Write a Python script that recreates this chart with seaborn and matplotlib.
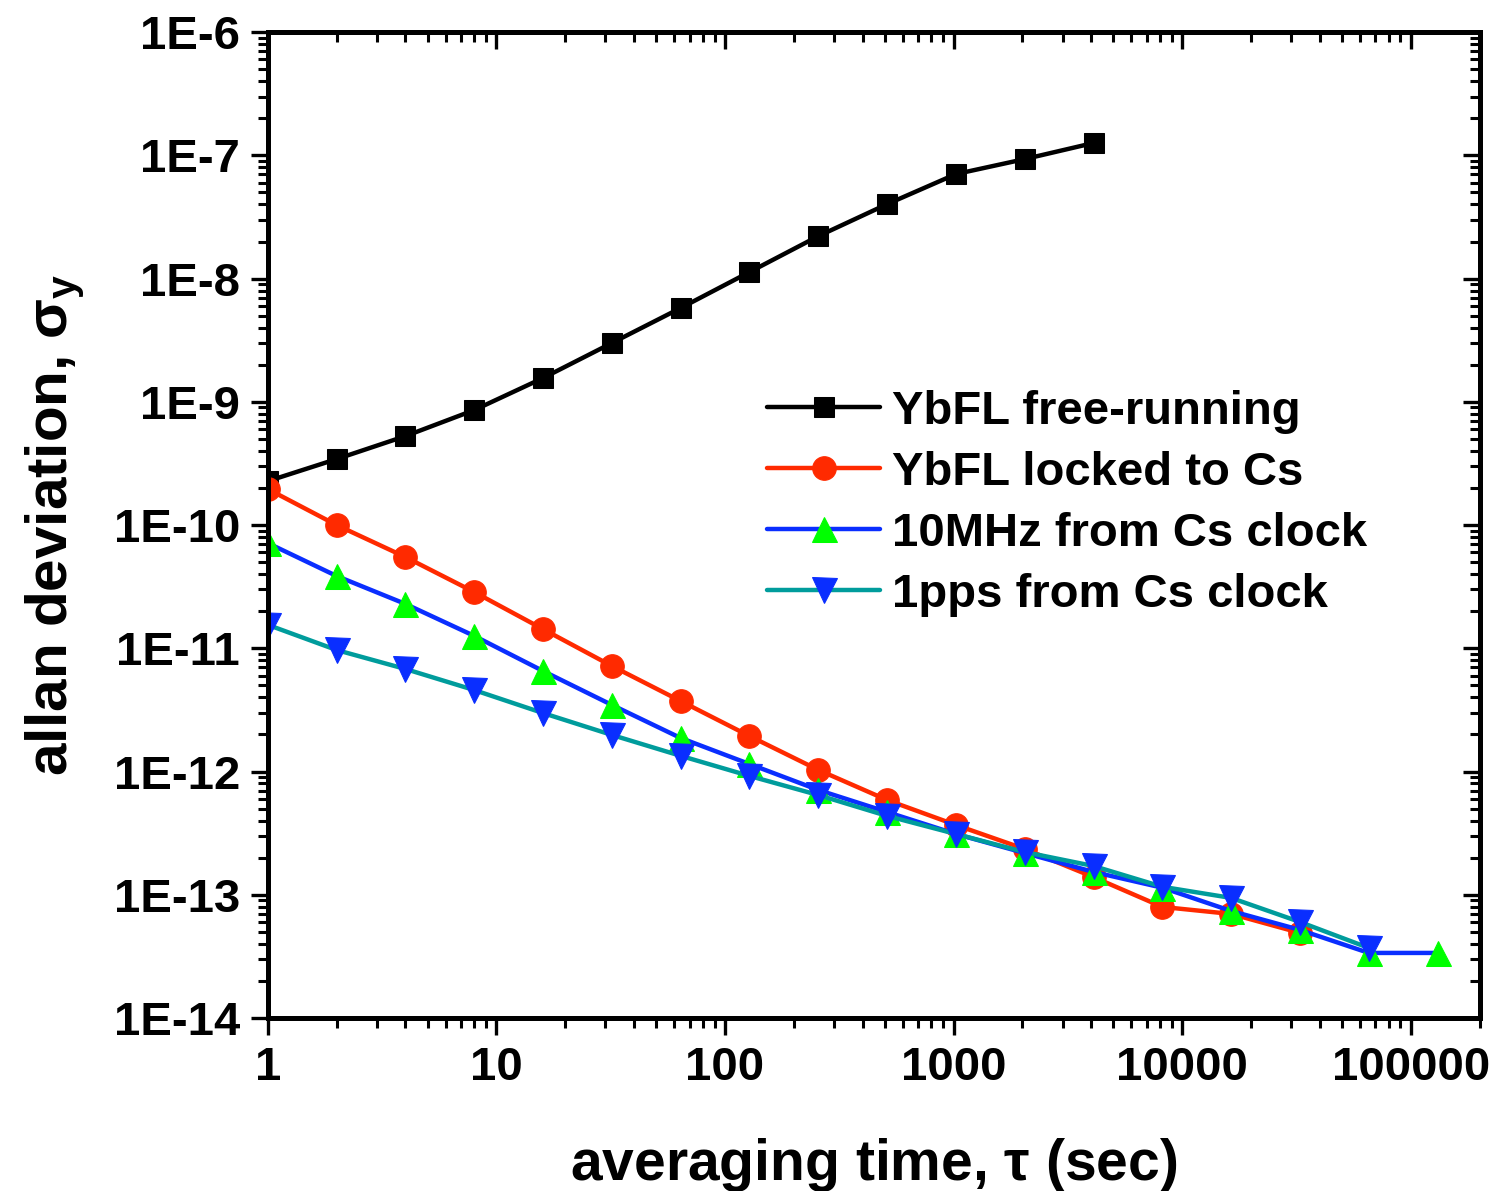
import numpy as np
import pandas as pd
import matplotlib
matplotlib.use('Agg')
import matplotlib.pyplot as plt
import seaborn as sns
from matplotlib.ticker import FixedLocator, FixedFormatter, LogLocator, NullFormatter

# averaging times (2^n seconds)
tau_free = [2 ** n for n in range(13)]
tau_locked = [2 ** n for n in range(16)]
tau_10mhz = [2 ** n for n in range(18)]
tau_1pps = [2 ** n for n in range(17)]

# allan deviation values
adev_free = [2.27e-10, 3.43e-10, 5.27e-10, 8.57e-10, 1.56e-9, 3.0e-9, 5.77e-9,
             1.13e-8, 2.21e-8, 4.02e-8, 7.05e-8, 9.33e-8, 1.26e-7]
adev_locked = [1.96e-10, 1.0e-10, 5.5e-11, 2.86e-11, 1.43e-11, 7.18e-12, 3.73e-12,
               1.94e-12, 1.03e-12, 5.87e-13, 3.68e-13, 2.35e-13, 1.39e-13, 7.96e-14,
               6.98e-14, 4.9e-14]
adev_10mhz = [7.14e-11, 3.86e-11, 2.29e-11, 1.26e-11, 6.54e-12, 3.47e-12, 1.87e-12,
              1.15e-12, 7.08e-13, 4.69e-13, 3.11e-13, 2.18e-13, 1.53e-13, 1.14e-13,
              7.38e-14, 5.18e-14, 3.37e-14, 3.37e-14]
adev_1pps = [1.55e-11, 9.68e-12, 6.79e-12, 4.58e-12, 2.98e-12, 1.98e-12, 1.34e-12,
             9.2e-13, 6.44e-13, 4.36e-13, 3.11e-13, 2.22e-13, 1.71e-13, 1.16e-13,
             9.42e-14, 6.01e-14, 3.7e-14]

labels = ['YbFL free-running', 'YbFL locked to Cs', '10MHz from Cs clock', '1pps from Cs clock']

x_ticks = [1, 10, 100, 1000, 10000, 100000]
x_tick_labels = ['1', '10', '100', '1000', '10000', '100000']
y_ticks = [1e-14, 1e-13, 1e-12, 1e-11, 1e-10, 1e-9, 1e-8, 1e-7, 1e-6]
y_tick_labels = ['1E-14', '1E-13', '1E-12', '1E-11', '1E-10', '1E-9', '1E-8', '1E-7', '1E-6']

sns.set_style('ticks')
plt.rcParams['font.family'] = ['Liberation Sans', 'DejaVu Sans']
plt.rcParams['font.weight'] = 'bold'
plt.rcParams['mathtext.fontset'] = 'custom'
plt.rcParams['mathtext.rm'] = 'Liberation Sans:bold'
plt.rcParams['mathtext.it'] = 'Liberation Sans:bold'
for key in ['text.color', 'axes.labelcolor', 'axes.edgecolor', 'xtick.color', 'ytick.color']:
    plt.rcParams[key] = 'black'

fig = plt.figure(figsize=(14.96, 11.91), dpi=100)
ax = fig.add_axes([0.179, 0.1453, 0.81, 0.8277])

lw = 3.2
sns.lineplot(x=tau_free, y=adev_free, ax=ax, color='black', marker='s', markersize=14,
             markeredgecolor='black', linewidth=lw, label=labels[0])
sns.lineplot(x=tau_locked, y=adev_locked, ax=ax, color='#FF2A00', marker='o', markersize=17,
             markeredgecolor='#FF2A00', linewidth=lw, label=labels[1])
sns.lineplot(x=tau_10mhz, y=adev_10mhz, ax=ax, color='#0A2EFF', marker='^', markersize=18,
             markerfacecolor='#00FF00', markeredgecolor='#00FF00', linewidth=lw, label=labels[2])
sns.lineplot(x=tau_1pps, y=adev_1pps, ax=ax, color='#009C9C', marker='v', markersize=18,
             markerfacecolor='#0A2EFF', markeredgecolor='#0A2EFF', linewidth=lw, label=labels[3])

ax.set_xscale('log')
ax.set_yscale('log')
ax.set_xlim(1, 2e5)
ax.set_ylim(1e-14, 1e-6)

ax.xaxis.set_major_locator(FixedLocator(x_ticks))
ax.xaxis.set_major_formatter(FixedFormatter(x_tick_labels))
ax.yaxis.set_major_locator(FixedLocator(y_ticks))
ax.yaxis.set_major_formatter(FixedFormatter(y_tick_labels))
for axis in (ax.xaxis, ax.yaxis):
    axis.set_minor_locator(LogLocator(base=10, subs=np.arange(2, 10), numticks=20))
    axis.set_minor_formatter(NullFormatter())

for sp in ax.spines.values():
    sp.set_linewidth(3.6)
    sp.set_color('black')
    sp.set_visible(True)

ax.tick_params(which='major', direction='out', length=12, width=2.4, labelsize=34, pad=8,
               colors='black')
ax.tick_params(which='minor', direction='out', length=7, width=2.2, colors='black')

# inward ticks on top and right
top = ax.secondary_xaxis('top')
right = ax.secondary_yaxis('right')
for sec, axis in ((top, top.xaxis), (right, right.yaxis)):
    axis.set_major_locator(FixedLocator(x_ticks if sec is top else y_ticks))
    axis.set_minor_locator(LogLocator(base=10, subs=np.arange(2, 10), numticks=20))
    axis.set_major_formatter(NullFormatter())
    axis.set_minor_formatter(NullFormatter())
    sec.tick_params(which='major', direction='in', length=12, width=2.4, colors='black')
    sec.tick_params(which='minor', direction='in', length=7, width=2.2, colors='black')
    for sp in sec.spines.values():
        sp.set_linewidth(3.6)
        sp.set_color('black')

ax.set_xlabel(r'averaging time, $\tau$ (sec)', fontsize=41, fontweight='bold', labelpad=33)
ax.set_ylabel(r'allan deviation, $\sigma_\mathregular{y}$', fontsize=42, fontweight='bold', labelpad=20)

ax.legend(loc='upper left', bbox_to_anchor=(0.412, 0.637), frameon=False, fontsize=34,
          handlelength=2.4, handletextpad=0.25, labelspacing=0.36, borderpad=0, borderaxespad=0)

fig.savefig('out.png', dpi=100)
